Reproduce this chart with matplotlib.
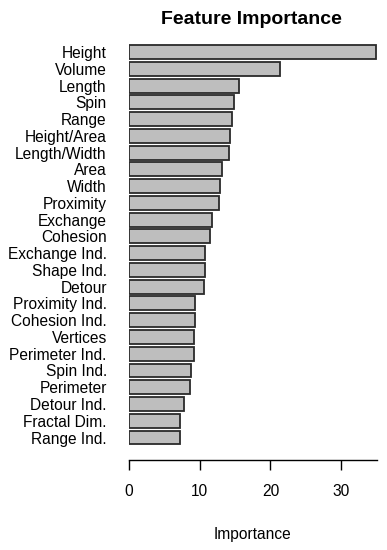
import matplotlib
matplotlib.use("Agg")
import matplotlib.pyplot as plt

plt.rcParams['font.family'] = ['Liberation Sans', 'DejaVu Sans']

features = ["Height", "Volume", "Length", "Spin", "Range", "Height/Area", "Length/Width",
            "Area", "Width", "Proximity", "Exchange", "Cohesion", "Exchange Ind.",
            "Shape Ind.", "Detour", "Proximity Ind.", "Cohesion Ind.", "Vertices",
            "Perimeter Ind.", "Spin Ind.", "Perimeter", "Detour Ind.", "Fractal Dim.",
            "Range Ind."]
importance = [34.9, 21.4, 15.6, 14.9, 14.5, 14.3, 14.2, 13.1, 12.9, 12.7, 11.7, 11.5,
              10.8, 10.8, 10.6, 9.4, 9.4, 9.2, 9.2, 8.8, 8.6, 7.8, 7.2, 7.2]
xticks = [0, 10, 20, 30]

fig = plt.figure(figsize=(3.87, 5.50), dpi=100)
ax = fig.add_axes([129/387, 90/550, 247.5/387, 420/550])

n = len(features)
pos = [n - 1 - i for i in range(n)]
ax.barh(pos, importance, height=0.83, color="#bebebe", edgecolor="#2a2a2a", linewidth=1.3)

ax.set_xlim(0, 35)
ax.set_ylim(-1.342, 23.72)
ax.set_yticks(pos)
ax.set_yticklabels(features, fontsize=11.2)
ax.tick_params(axis='y', length=0, pad=16)
ax.set_xticks(xticks)
ax.tick_params(axis='x', length=7.2, width=1, pad=10, labelsize=11.2)
for s in ['top', 'right', 'left']:
    ax.spines[s].set_visible(False)
ax.spines['bottom'].set_linewidth(1)
ax.set_xlabel("Importance", fontsize=11.2, labelpad=20)
fig.text(251/387, 1 - 20/550, "Feature Importance", fontsize=14, fontweight='bold',
         ha='center', va='center')

fig.savefig("out.png", dpi=100)
